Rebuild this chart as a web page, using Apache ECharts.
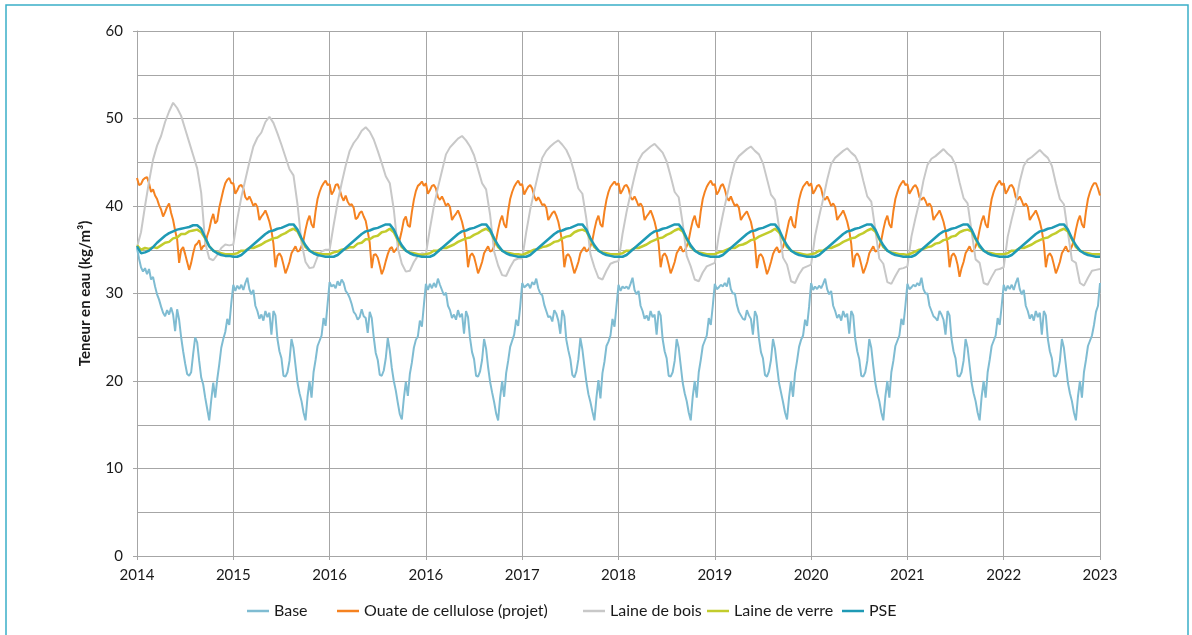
<!DOCTYPE html>
<html><head><meta charset="utf-8">
<script src="https://cdn.jsdelivr.net/npm/echarts/dist/echarts.min.js"></script>
<style>html,body{margin:0;padding:0;background:#fff}#c{width:1192px;height:635px}</style>
</head><body><div id="c"></div>
<script>
// x tick labels (as printed on the original chart)
const xTickLabels = ['2014','2015','2016','2016','2017','2018','2019','2020','2021','2022','2023'];
const seriesNames = ['Base','Ouate de cellulose (projet)','Laine de bois','Laine de verre','PSE'];

// samples per year-interval of each series
const baseSamples = 48, ouateSamples = 48, boisSamples = 24, verreSamples = 24, pseSamples = 24;

const baseValues = [
35.2,34.0,33.0,32.5,32.9,32.2,32.8,31.6,31.9,30.8,29.9,29.3,28.5,27.8,27.4,28.1,27.6,28.4,27.6,25.7,28.2,27.0,25.0,23.4,22.0,20.8,20.6,21.0,23.1,25.0,24.4,22.3,20.4,19.6,18.1,16.8,15.5,17.8,19.8,18.1,20.2,21.9,23.8,24.8,25.6,27.1,26.4,28.9,
31.0,30.3,30.9,30.5,31.0,30.4,31.2,31.8,30.5,29.9,30.4,28.6,28.0,27.1,27.6,26.9,28.0,27.3,27.8,25.3,28.0,27.5,24.8,23.4,22.6,20.6,20.5,21.0,22.3,24.8,23.8,21.8,19.8,18.6,17.7,16.4,15.5,18.2,20.0,18.1,21.0,22.4,24.0,24.6,25.2,27.2,26.3,28.8,
31.3,30.8,31.0,30.6,31.4,30.9,31.6,31.2,30.3,30.0,29.5,28.8,27.9,27.6,27.0,27.3,28.2,27.4,27.2,25.5,27.9,27.2,25.0,23.2,22.4,20.7,20.6,21.2,22.6,24.9,23.5,21.5,20.0,18.9,17.5,16.2,15.6,18.0,19.9,18.3,20.8,22.1,23.8,24.7,25.1,26.9,26.2,28.7,
31.1,30.4,31.1,30.6,31.2,30.7,31.7,31.0,30.4,29.8,30.1,28.6,28.1,27.2,27.6,27.0,28.1,27.3,27.7,25.4,28.0,27.3,24.9,23.3,22.5,20.6,20.5,21.1,22.4,24.8,23.7,21.6,19.9,18.7,17.6,16.3,15.5,18.1,20.0,18.2,20.9,22.3,23.9,24.6,25.3,27.0,26.3,28.5,
31.2,30.7,30.9,31.1,30.6,31.3,31.0,31.7,30.6,30.0,29.8,28.7,28.0,27.3,27.4,26.8,28.1,27.7,26.9,25.4,28.1,27.4,24.7,23.5,22.5,20.7,20.4,21.1,22.5,24.9,23.6,21.7,19.9,18.5,17.6,16.5,15.5,18.1,20.1,18.0,20.9,22.2,24.0,24.5,25.2,27.1,26.2,28.6,
31.0,30.3,30.8,30.6,30.8,30.5,31.1,31.8,30.4,29.9,30.3,28.6,28.0,27.1,27.5,26.9,28.0,27.3,27.6,25.3,28.0,27.5,24.8,23.4,22.6,20.6,20.5,21.0,22.3,24.8,23.8,21.8,19.8,18.6,17.7,16.4,15.5,18.2,20.0,18.1,21.0,22.4,24.0,24.6,25.2,27.2,26.4,28.6,
31.1,30.5,30.7,31.0,30.8,31.2,30.8,31.8,30.5,30.0,30.0,28.7,27.9,27.5,27.1,27.0,28.1,27.5,27.1,25.3,28.0,27.4,24.9,23.3,22.6,20.7,20.5,21.1,22.4,24.8,23.7,21.7,19.8,18.7,17.6,16.4,15.6,18.1,20.0,18.2,20.9,22.3,23.9,24.7,25.2,27.0,26.3,28.5,
31.2,30.4,30.8,30.5,30.9,30.6,31.1,31.7,30.5,29.9,30.3,28.6,28.0,27.2,27.6,26.9,28.0,27.3,27.7,25.4,28.0,27.5,24.8,23.4,22.5,20.6,20.5,21.0,22.3,24.8,23.8,21.7,19.8,18.6,17.7,16.4,15.5,18.2,20.0,18.1,21.0,22.3,24.0,24.6,25.2,27.1,26.4,28.6,
31.1,30.5,30.7,31.0,30.8,31.2,30.9,31.8,30.5,30.0,30.0,28.6,28.0,27.4,27.2,26.9,28.0,27.6,27.0,25.3,28.0,27.5,24.8,23.4,22.6,20.6,20.5,21.0,22.3,24.8,23.8,21.8,19.8,18.6,17.7,16.4,15.5,18.2,20.0,18.1,21.0,22.4,24.0,24.6,25.2,27.2,26.4,28.6,
31.0,30.3,30.9,30.5,31.0,30.4,31.2,31.8,30.5,29.9,30.4,28.6,28.0,27.1,27.6,26.9,28.0,27.3,27.8,25.3,28.0,27.5,24.8,23.4,22.6,20.6,20.5,21.0,22.3,24.8,23.8,21.8,19.8,18.6,17.7,16.4,15.5,18.2,20.0,18.1,21.0,22.4,24.0,24.6,25.2,26.4,27.9,28.6,
31.2];

const ouateValues = [
43.2,42.4,42.5,43.0,43.2,43.3,42.6,41.6,41.9,41.2,40.8,40.1,39.6,38.8,39.3,39.9,40.3,39.2,38.4,37.2,36.2,33.5,35.0,35.3,34.5,33.6,32.7,33.5,34.6,35.5,35.7,36.1,35.0,35.4,35.5,36.6,37.3,38.4,39.1,38.0,38.3,39.8,40.8,41.8,42.6,43.0,43.2,42.6,
42.6,41.4,41.8,42.3,42.4,42.0,41.0,40.7,41.1,40.6,40.0,40.3,39.9,38.4,38.8,39.1,39.5,38.9,38.2,37.2,35.7,33.0,34.3,34.6,34.2,33.3,32.3,32.9,33.6,34.6,35.0,35.4,34.8,34.9,35.4,36.1,37.3,38.3,38.9,37.9,37.5,39.4,40.8,41.6,42.2,42.6,42.9,42.4,
42.5,41.3,41.7,42.4,42.5,41.9,41.1,40.6,41.2,40.5,40.1,40.2,39.8,38.5,38.7,39.2,39.4,38.8,38.3,37.1,35.8,32.9,34.4,34.5,34.1,33.2,32.2,32.8,33.7,34.5,35.1,35.3,34.7,35.0,35.3,36.2,37.2,38.4,38.8,37.8,37.6,39.3,40.7,41.7,42.3,42.5,42.8,42.3,
42.6,41.4,41.8,42.3,42.4,42.0,41.0,40.7,41.1,40.6,40.0,40.3,39.9,38.4,38.8,39.1,39.5,38.9,38.2,37.2,35.7,33.0,34.3,34.6,34.2,33.3,32.3,32.9,33.6,34.6,35.0,35.4,34.8,34.9,35.4,36.1,37.3,38.3,38.9,37.9,37.5,39.4,40.8,41.6,42.2,42.6,42.9,42.4,
42.5,41.3,41.8,42.2,42.4,42.0,41.1,40.6,41.0,40.6,40.1,40.2,39.8,38.4,38.8,39.2,39.4,38.9,38.2,37.1,35.8,33.0,34.3,34.5,34.1,33.2,32.3,32.9,33.6,34.6,35.0,35.3,34.8,35.0,35.4,36.1,37.3,38.3,38.9,37.9,37.6,39.4,40.7,41.6,42.2,42.5,42.8,42.4,
42.6,41.4,41.8,42.3,42.4,42.0,41.0,40.7,41.1,40.6,40.0,40.3,39.9,38.4,38.8,39.1,39.5,38.9,38.2,37.2,35.7,33.0,34.3,34.6,34.2,33.3,32.3,32.9,33.6,34.6,35.0,35.4,34.8,34.9,35.4,36.1,37.3,38.3,38.9,37.9,37.5,39.4,40.8,41.6,42.2,42.6,42.9,42.4,
42.5,41.3,41.7,42.3,42.5,41.9,41.0,40.6,41.1,40.5,40.0,40.2,39.8,38.4,38.8,39.1,39.4,38.8,38.2,37.1,35.7,32.9,34.3,34.5,34.1,33.2,32.2,32.8,33.6,34.5,35.0,35.3,34.7,34.9,35.3,36.1,37.2,38.3,38.8,37.8,37.5,39.3,40.7,41.6,42.2,42.5,42.8,42.3,
42.6,41.4,41.8,42.3,42.4,42.0,41.0,40.7,41.1,40.6,40.0,40.3,39.9,38.4,38.8,39.1,39.5,38.9,38.2,37.2,35.7,33.0,34.3,34.6,34.2,33.3,32.3,32.9,33.6,34.6,35.0,35.4,34.8,34.9,35.4,36.1,37.3,38.3,38.9,37.9,37.5,39.4,40.8,41.6,42.2,42.6,42.9,42.4,
42.5,41.4,41.8,42.2,42.4,42.0,41.0,40.7,41.0,40.6,40.0,40.3,39.9,38.4,38.8,39.1,39.5,38.9,38.2,37.2,35.7,33.0,34.3,34.6,34.2,33.3,31.9,32.9,33.6,34.6,35.0,35.4,34.8,34.9,35.4,36.1,37.3,38.3,38.9,37.9,37.5,39.4,40.8,41.6,42.2,42.6,42.9,42.4,
42.6,41.4,41.8,42.3,42.4,42.0,41.0,40.7,41.1,40.6,40.0,40.3,39.9,38.4,38.8,39.1,39.5,38.9,38.2,37.2,35.7,33.0,34.3,34.6,34.2,33.3,32.3,32.9,33.6,34.6,35.0,35.4,34.8,34.9,35.4,36.1,37.3,38.3,38.9,37.9,37.5,39.4,40.8,41.6,42.2,42.6,42.6,42.0,
41.2];

const boisValues = [
35.3,37.0,40.0,42.8,45.3,46.9,48.0,49.6,50.8,51.8,51.2,50.3,48.8,47.3,45.8,44.3,41.5,35.8,34.0,33.8,34.4,35.2,35.6,35.5,
35.6,38.5,41.0,43.0,45.0,46.8,47.8,48.4,49.6,50.2,49.5,48.3,47.0,45.6,44.2,43.5,40.2,35.8,33.6,32.9,33.0,34.2,34.8,35.0,
35.0,37.8,40.4,42.6,44.6,46.3,47.2,47.8,48.6,49.0,48.5,47.6,46.3,44.9,43.4,42.6,39.6,35.2,33.4,32.5,32.6,33.6,34.3,34.6,
34.5,37.4,40.0,42.1,44.0,45.9,46.7,47.2,47.7,48.0,47.5,46.8,45.8,44.2,42.6,41.9,39.0,34.8,33.2,32.1,32.0,33.0,33.8,34.0,
34.0,37.0,39.6,41.7,43.7,45.5,46.3,46.8,47.2,47.5,47.0,46.4,45.4,43.8,42.0,41.4,38.5,34.5,33.0,31.8,31.6,32.6,33.4,33.6,
33.7,36.8,39.3,41.4,43.4,45.2,46.0,46.4,46.8,47.1,46.6,46.1,45.1,43.4,41.6,41.0,38.0,34.3,33.1,31.6,31.4,32.4,33.1,33.3,
33.5,36.7,39.0,41.1,43.2,45.0,45.7,46.1,46.5,46.8,46.3,45.9,44.9,43.1,41.3,40.7,37.6,34.1,33.3,31.4,31.2,32.2,32.9,33.1,
33.3,36.6,38.8,40.8,43.0,44.8,45.5,45.9,46.3,46.6,46.1,45.7,44.8,42.9,41.1,40.5,37.3,34.0,33.4,31.3,31.1,32.0,32.8,32.9,
33.1,36.5,38.6,40.5,42.9,44.7,45.4,45.7,46.1,46.5,46.0,45.6,44.7,42.7,40.9,40.3,37.1,33.9,33.5,31.2,31.0,31.9,32.7,32.8,
33.0,36.5,38.5,40.3,42.8,44.6,45.3,45.6,46.0,46.4,45.9,45.5,44.6,42.6,40.8,40.2,37.0,33.8,33.5,31.2,30.9,31.8,32.6,32.7,
32.8];

const verreValues = [
35.5,35.0,35.2,35.1,35.3,35.2,35.5,35.8,35.9,36.3,36.4,36.8,36.8,37.1,37.2,37.3,37.0,36.3,35.4,34.9,34.7,34.6,34.5,34.5,
34.5,34.6,34.9,34.9,35.2,35.2,35.4,35.6,35.9,36.1,36.3,36.4,36.7,36.9,37.2,37.4,37.1,36.2,35.3,34.9,34.7,34.6,34.5,34.5,
34.5,34.7,34.8,35.0,35.1,35.3,35.3,35.7,35.8,36.2,36.2,36.5,36.6,37.0,37.1,37.4,37.0,36.1,35.3,34.9,34.7,34.6,34.5,34.4,
34.5,34.6,34.9,34.9,35.2,35.2,35.4,35.6,35.9,36.1,36.3,36.4,36.7,36.9,37.2,37.4,37.1,36.2,35.3,34.9,34.7,34.6,34.5,34.5,
34.4,34.6,34.8,35.0,35.1,35.3,35.4,35.6,35.9,36.0,36.3,36.5,36.6,37.0,37.2,37.3,37.1,36.2,35.3,34.9,34.7,34.6,34.5,34.5,
34.5,34.6,34.9,34.9,35.2,35.2,35.4,35.6,35.9,36.1,36.3,36.4,36.7,36.9,37.2,37.4,37.1,36.2,35.3,34.9,34.7,34.6,34.5,34.5,
34.5,34.7,34.8,35.0,35.2,35.2,35.5,35.6,35.8,36.1,36.2,36.5,36.7,36.9,37.1,37.4,37.0,36.2,35.3,34.9,34.7,34.6,34.5,34.4,
34.5,34.6,34.9,34.9,35.2,35.2,35.4,35.6,35.9,36.1,36.3,36.4,36.7,36.9,37.2,37.4,37.1,36.2,35.3,34.9,34.7,34.6,34.5,34.5,
34.4,34.6,34.8,35.0,35.1,35.3,35.4,35.7,35.8,36.1,36.2,36.5,36.6,37.0,37.2,37.3,37.1,36.2,35.3,34.9,34.7,34.6,34.5,34.5,
34.5,34.6,34.9,34.9,35.2,35.2,35.4,35.6,35.9,36.1,36.3,36.4,36.7,36.9,37.2,37.4,37.1,36.2,35.3,34.9,34.7,34.6,34.5,34.5,
34.5];

const pseValues = [
35.4,34.6,34.7,34.9,35.3,35.8,36.2,36.6,36.9,37.1,37.3,37.4,37.5,37.6,37.8,37.8,37.4,36.4,35.4,34.9,34.6,34.4,34.3,34.3,
34.2,34.2,34.4,34.8,35.2,35.6,36.0,36.4,36.8,37.1,37.2,37.4,37.5,37.7,37.9,37.9,37.3,36.3,35.5,34.9,34.6,34.4,34.3,34.2,
34.2,34.2,34.4,34.8,35.2,35.6,36.0,36.4,36.8,37.1,37.2,37.4,37.5,37.7,37.9,37.9,37.3,36.3,35.5,34.9,34.6,34.4,34.3,34.2,
34.2,34.2,34.4,34.8,35.2,35.6,36.0,36.4,36.8,37.1,37.2,37.4,37.5,37.7,37.9,37.9,37.3,36.3,35.5,34.9,34.6,34.4,34.3,34.2,
34.2,34.2,34.4,34.8,35.2,35.6,36.0,36.4,36.8,37.1,37.2,37.4,37.5,37.7,37.9,37.9,37.3,36.3,35.5,34.9,34.6,34.4,34.3,34.2,
34.2,34.2,34.4,34.8,35.2,35.6,36.0,36.4,36.8,37.1,37.2,37.4,37.5,37.7,37.9,37.9,37.3,36.3,35.5,34.9,34.6,34.4,34.3,34.2,
34.2,34.2,34.4,34.8,35.2,35.6,36.0,36.4,36.8,37.1,37.2,37.4,37.5,37.7,37.9,37.9,37.3,36.3,35.5,34.9,34.6,34.4,34.3,34.2,
34.2,34.2,34.4,34.8,35.2,35.6,36.0,36.4,36.8,37.1,37.2,37.4,37.5,37.7,37.9,37.9,37.3,36.3,35.5,34.9,34.6,34.4,34.3,34.2,
34.2,34.2,34.4,34.8,35.2,35.6,36.0,36.4,36.8,37.1,37.2,37.4,37.5,37.7,37.9,37.9,37.3,36.3,35.5,34.9,34.6,34.4,34.3,34.2,
34.2,34.2,34.4,34.8,35.2,35.6,36.0,36.4,36.8,37.1,37.2,37.4,37.5,37.7,37.9,37.9,37.3,36.3,35.5,34.9,34.6,34.4,34.3,34.2,
34.2];

const colors = ['#7FBCD2','#F58220','#C8C8C8','#C2CC2C','#1F9AB5'];
const FONT = 'Lato, "Open Sans", sans-serif';
const GRID = '#A6A6A6';

function pairs(values, perInterval){ return values.map((v,i)=>[i/perInterval, v]); }

const seriesData = [
  [baseValues, baseSamples, 2],
  [ouateValues, ouateSamples, 2],
  [boisValues, boisSamples, 2],
  [verreValues, verreSamples, 2.5],
  [pseValues, pseSamples, 2.5]
];

const legendLeft = [242, 332, 578, 702, 837];

const chart = echarts.init(document.getElementById('c'), null, {renderer:'canvas'});
chart.setOption({
  animation:false,
  backgroundColor:'#fff',
  color: colors,
  grid:{left:137, right:92, top:31, bottom:79, containLabel:false},
  graphic:[{type:'rect', shape:{x:6, y:5, width:1182, height:700}, style:{fill:'none', stroke:'#3AAFC8', lineWidth:1.5}, z:-1, silent:true}],
  legend: seriesNames.map((n,i)=>({
    data:[n], left:legendLeft[i], top:598, icon:'rect', itemWidth:22, itemHeight:2.5, itemGap:0,
    textStyle:{fontFamily:FONT, fontSize:16, color:'#1a1a1a'}, selectedMode:false
  })),
  xAxis:{
    type:'value', min:0, max:10, interval:1,
    axisLine:{show:true, lineStyle:{color:GRID, width:1}},
    axisTick:{show:true, length:4, lineStyle:{color:GRID}},
    axisLabel:{margin:12, fontFamily:FONT, fontSize:15, color:'#1a1a1a', formatter:(v)=>xTickLabels[Math.round(v)]},
    splitLine:{show:true, lineStyle:{color:GRID, width:1}}
  },
  yAxis:{
    type:'value', min:0, max:60, interval:10,
    name:'Teneur en eau (kg/m³)', nameLocation:'middle', nameGap:44,
    nameTextStyle:{fontFamily:FONT, fontSize:15, fontWeight:'bold', color:'#1a1a1a'},
    axisLine:{show:true, lineStyle:{color:GRID, width:1}},
    axisTick:{show:true, length:4, lineStyle:{color:GRID}},
    minorTick:{show:false, splitNumber:2},
    minorSplitLine:{show:true, lineStyle:{color:GRID, width:1}},
    axisLabel:{margin:14, fontFamily:FONT, fontSize:15, color:'#1a1a1a'},
    splitLine:{show:true, lineStyle:{color:GRID, width:1}}
  },
  series: seriesData.map((s,i)=>({
    name:seriesNames[i], type:'line', data:pairs(s[0], s[1]),
    symbol:'none', showSymbol:false, smooth:false,
    lineStyle:{width:s[2], color:colors[i]}, itemStyle:{color:colors[i]}
  }))
});
</script></body></html>
